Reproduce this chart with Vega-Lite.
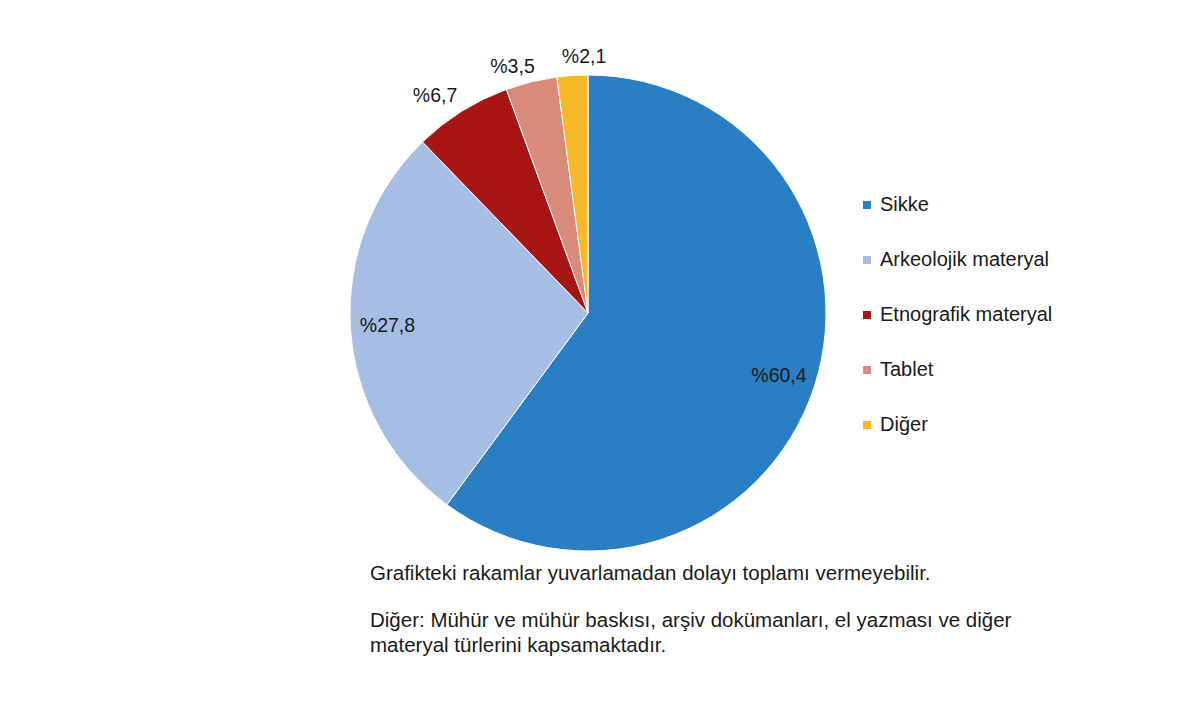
{
  "$schema": "https://vega.github.io/schema/vega-lite/v6.json",
  "autosize": "none",
  "width": 1176,
  "height": 626,
  "padding": {"left": 0, "top": 0, "right": 24, "bottom": 79},
  "background": "white",
  "title": {
    "text": "Grafikteki rakamlar yuvarlamadan dolayı toplamı vermeyebilir.",
    "subtitle": [
      "Diğer: Mühür ve  mühür baskısı, arşiv dokümanları, el yazması ve  diğer",
      "materyal türlerini kapsamaktadır."
    ],
    "orient": "bottom",
    "anchor": "start",
    "frame": "group",
    "offset": 0,
    "dx": 370,
    "dy": -46,
    "baseline": "alphabetic",
    "font": "Liberation Sans",
    "fontSize": 20.5,
    "fontWeight": "normal",
    "lineHeight": 24,
    "color": "#1a1a1a",
    "subtitleFont": "Liberation Sans",
    "subtitleFontSize": 20.5,
    "subtitleLineHeight": 25,
    "subtitleColor": "#1a1a1a",
    "subtitlePadding": 26
  },
  "data": {
    "values": [
      {"kind": "Sikke", "value": 60.4, "rank": 1, "label": "%60,4"},
      {"kind": "Arkeolojik materyal", "value": 27.8, "rank": 2, "label": "%27,8"},
      {"kind": "Etnografik materyal", "value": 6.7, "rank": 3, "label": "%6,7"},
      {"kind": "Tablet", "value": 3.5, "rank": 4, "label": "%3,5"},
      {"kind": "Diğer", "value": 2.1, "rank": 5, "label": "%2,1"}
    ]
  },
  "encoding": {
    "theta": {"field": "value", "type": "quantitative", "stack": true},
    "order": {"field": "rank", "type": "quantitative"}
  },
  "layer": [
    {
      "mark": {"type": "arc", "outerRadius": 238, "stroke": "white", "strokeWidth": 1},
      "encoding": {
        "color": {
          "field": "kind",
          "type": "nominal",
          "scale": {
            "domain": ["Sikke", "Arkeolojik materyal", "Etnografik materyal", "Tablet", "Diğer"],
            "range": ["#2a7ec3", "#a6bee3", "#a81515", "#d98a79", "#f6b825"]
          },
          "legend": {
            "title": null,
            "orient": "none",
            "legendX": 857,
            "legendY": 195,
            "symbolType": "square",
            "symbolSize": 64,
            "symbolStrokeWidth": 0,
            "labelFont": "Liberation Sans",
            "labelFontSize": 20,
            "labelLimit": 400,
            "labelColor": "#1a1a1a",
            "labelOffset": 3,
            "rowPadding": 35
          }
        }
      }
    },
    {
      "mark": {"type": "text", "radius": 201, "font": "Liberation Sans", "fontSize": 19.5, "color": "#1a1a1a"},
      "encoding": {
        "text": {"condition": {"test": "datum.value >= 10", "field": "label"}, "value": ""}
      }
    },
    {
      "mark": {"type": "text", "radius": 258, "dx": -16, "dy": 2, "font": "Liberation Sans", "fontSize": 19.5, "color": "#1a1a1a"},
      "encoding": {
        "text": {"condition": {"test": "datum.rank == 3", "field": "label"}, "value": ""}
      }
    },
    {
      "mark": {"type": "text", "radius": 258, "dx": -14, "dy": 5, "font": "Liberation Sans", "fontSize": 19.5, "color": "#1a1a1a"},
      "encoding": {
        "text": {"condition": {"test": "datum.rank == 4", "field": "label"}, "value": ""}
      }
    },
    {
      "mark": {"type": "text", "radius": 258, "dx": 13, "dy": 1, "font": "Liberation Sans", "fontSize": 19.5, "color": "#1a1a1a"},
      "encoding": {
        "text": {"condition": {"test": "datum.rank == 5", "field": "label"}, "value": ""}
      }
    }
  ]
}
